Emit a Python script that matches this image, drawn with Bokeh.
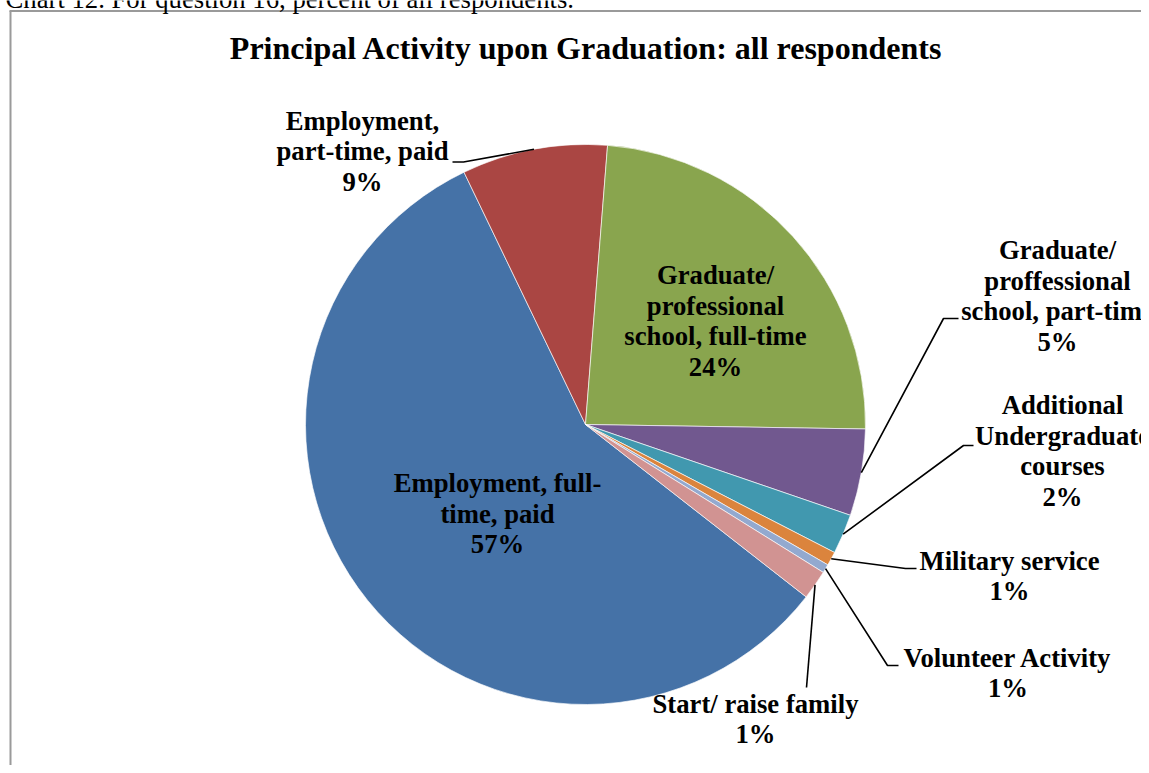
import math
from bokeh.plotting import figure
from bokeh.models import Range1d, ColumnDataSource
from bokeh.core.properties import value
from bokeh.embed import file_html
from bokeh.resources import INLINE

# ---------------- data ----------------
categories = [
    "Employment, full-\ntime, paid",
    "Employment,\npart-time, paid",
    "Graduate/\nprofessional\nschool, full-time",
    "Graduate/\nproffessional\nschool, part-time",
    "Additional\nUndergraduate\ncourses",
    "Military service",
    "Volunteer Activity",
    "Start/ raise family",
]
values = [57.3, 8.4, 24.0, 5.0, 2.3, 0.8, 0.5, 1.7]
pct_labels = ["57%", "9%", "24%", "5%", "2%", "1%", "1%", "1%"]
colors = ["#4572A7", "#AA4643", "#89A54E", "#71588F", "#4198AF", "#DB843D", "#93A9CF", "#D19392"]

title_text = "Principal Activity upon Graduation: all respondents"
caption_text = "Chart 12. For question 16, percent of all respondents."

# ---------------- layout (page pixel coordinates) ----------------
W, H = 1141, 765
CX, CY, R = 585, 424, 280
FIRST_ANGLE = 128.0  # degrees, clockwise from 12 o'clock
LINE_STEP = 30.6
LABEL_SHIFT = 8.5   # renderer baseline correction
TITLE_SHIFT = 10.5

# label: (center x, first baseline y)
label_pos = [
    (497, 491),
    (362, 128.5),
    (715, 283),
    (1057, 258),
    (1062, 413),
    (1009, 568.5),
    (1007.5, 665.5),
    (755, 711.5),
]
# leader lines: label-side points (elbow, end); None = inside label
leader_pts = [
    None,
    [(463, 161.5), (452, 161.5)],
    None,
    [(943, 318), (958, 318)],
    [(963, 445), (973, 445)],
    [(905, 568), (916, 568)],
    [(887, 665), (898, 665)],
    [(806, 687)],
]


def Y(y):
    return H - y


p = figure(width=W, height=H, x_range=Range1d(0, W), y_range=Range1d(0, H),
           output_backend="svg", toolbar_location=None, min_border=0,
           x_axis_location=None, y_axis_location=None,
           outline_line_color=None, background_fill_color="white")
p.grid.visible = False

# frame
p.line([10, 10], [Y(10.5), Y(800)], line_color="#9a9a9a", line_width=2)
p.line([9, 1200], [Y(10.5), Y(10.5)], line_color="#9a9a9a", line_width=2)

# wedges
total = sum(values)
starts, ends, mids = [], [], []
a = FIRST_ANGLE
for v in values:
    d = v / total * 360.0
    starts.append(a)
    ends.append(a + d)
    mids.append(a + d / 2)
    a += d

src = ColumnDataSource(dict(
    x=[CX] * len(values), y=[Y(CY)] * len(values),
    start=[math.radians(90 - s) for s in starts],
    end=[math.radians(90 - e) for e in ends],
    color=colors,
))
p.wedge(x="x", y="y", radius=R, start_angle="start", end_angle="end",
        direction="clock", fill_color="color", line_color="white",
        line_width=0.8, line_alpha=0.8, source=src)

# leader lines
for i, pts in enumerate(leader_pts):
    if pts is None:
        continue
    m = math.radians(mids[i])
    sx = CX + R * math.sin(m)
    sy = CY - R * math.cos(m)
    xs = [sx] + [q[0] for q in pts]
    ys = [Y(sy)] + [Y(q[1]) for q in pts]
    p.line(xs, ys, line_color="black", line_width=1.6)

# labels
tx, ty, tt = [], [], []
for i, cat in enumerate(categories):
    lines = cat.split("\n") + [pct_labels[i]]
    cx, by = label_pos[i]
    for k, ln in enumerate(lines):
        tx.append(cx)
        ty.append(Y(by + k * LINE_STEP - LABEL_SHIFT))
        tt.append(ln)
p.text(x=tx, y=ty, text=tt, text_font=value("Liberation Serif"),
       text_font_style="bold", text_font_size="26.7px", text_align="center",
       text_baseline="alphabetic", text_color="black")

# title
p.text(x=[586], y=[Y(58 - TITLE_SHIFT)], text=[title_text], text_font=value("Liberation Serif"),
       text_font_style="bold", text_font_size="32px", text_align="center",
       text_baseline="alphabetic", text_color="black")

# caption (cut off at the top of the page)
p.text(x=[5], y=[Y(7.3 - LABEL_SHIFT)], text=[caption_text], text_font=value("Liberation Serif"),
       text_font_size="26.7px", text_align="left", text_baseline="alphabetic",
       text_color="black")

open("out.html", "w").write(file_html(p, INLINE))
